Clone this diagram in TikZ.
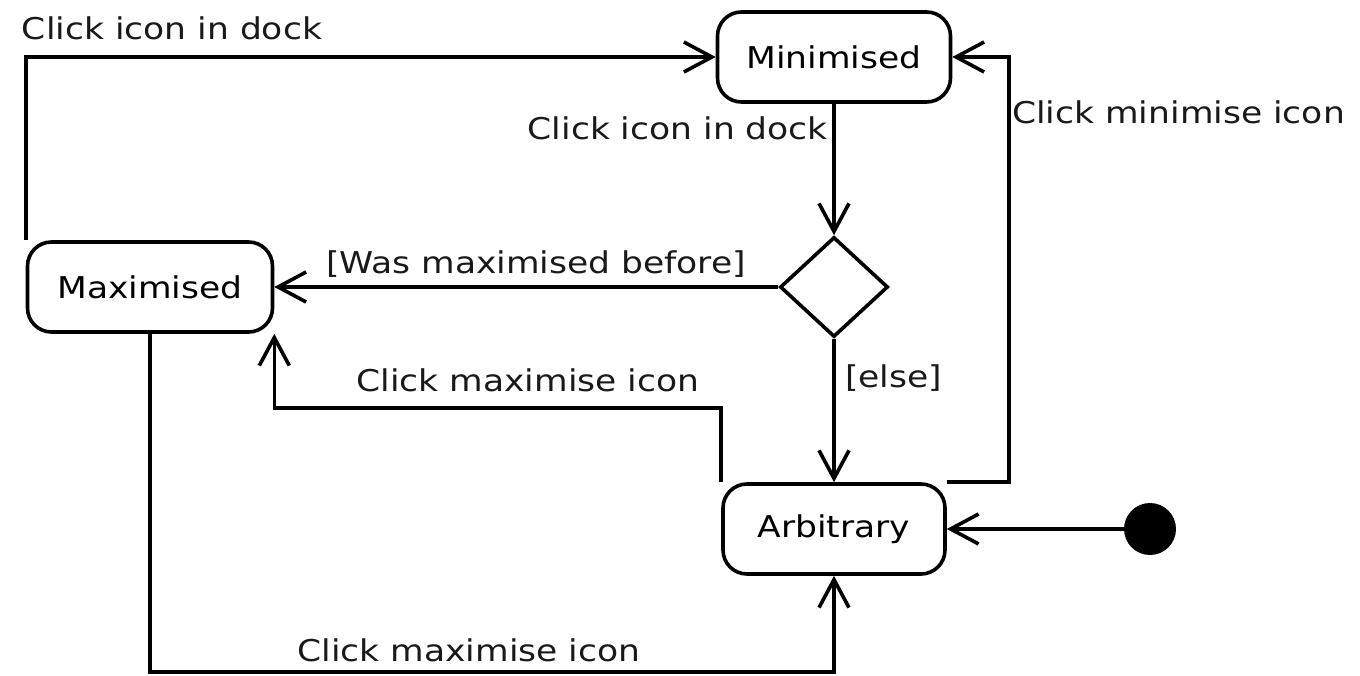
\documentclass[tikz,border=0pt]{standalone}
\usepackage{fontspec}
\setmainfont{DejaVu Sans}[FakeStretch=1.15]
\usetikzlibrary{arrows.meta,shapes.geometric,calc}
\begin{document}
\begin{tikzpicture}[x=1pt,y=-1pt,
  font=\fontsize{30}{36}\selectfont,
  state/.style={draw,line width=3.6pt,rounded corners=24pt,inner sep=0pt,minimum height=90pt},
  choice/.style={draw,diamond,line width=3.6pt,inner sep=0pt,minimum width=108pt,minimum height=100pt},
  initial/.style={circle,fill=black,inner sep=0pt,minimum size=52pt},
  flow/.style={line width=3.6pt,-{Straight Barb[length=28pt,width=30pt]}},
  lbl/.style={inner sep=0pt,text=black!90}]
\useasboundingbox (0,0) rectangle (1360,676);

% states
\node[state,minimum width=233pt] (min) at (834,57) {Minimised};
\node[state,minimum width=245pt] (max) at (150,287) {Maximised};
\node[state,minimum width=222pt] (arb) at (834,529) {Arbitrary};
\node[choice] (dec) at (834,287) {};
\node[initial] (start) at (1150,529) {};

% helper levels for the bent connectors
\coordinate (midlevel) at (0,408);
\coordinate (bottomlevel) at (0,672);

% transitions
\draw[flow] (min.south) -- (dec.north);
\draw[flow] (dec.west) -- (max.east);
\draw[flow] (dec.south) -- (arb.north);
\draw[flow] (arb.north west) -- (arb.north west |- midlevel) -| (max.south east);
\draw[flow] (arb.north east) -- ++(62,0) |- (min.east);
\draw[flow] (max.north west) |- (min.west);
\draw[flow] (max.south) -- (max.south |- bottomlevel) -| (arb.south);
\draw[flow] (start) -- (arb.east);

% labels
\node[lbl] (l1) at (172,28) {Click icon in dock};
\node[lbl,anchor=east] (l2) at (828,128) {Click icon in dock};
\node[lbl] (l3) at (536,264) {[Was maximised before]};
\node[lbl,anchor=west] (l4) at (845,378) {[else]};
\node[lbl] (l5) at (528,380) {Click maximise icon};
\node[lbl,anchor=west] (l6) at (1012,112) {Click minimise icon};
\node[lbl] (l7) at (469,650) {Click maximise icon};
\end{tikzpicture}
\end{document}
